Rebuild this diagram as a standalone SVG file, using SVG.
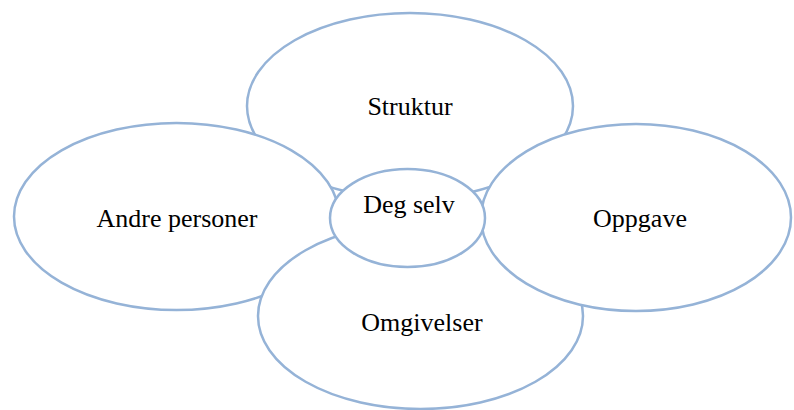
<svg xmlns="http://www.w3.org/2000/svg" width="794" height="410" viewBox="0 0 794 410">
<style>
.e{fill:#ffffff;stroke:#95b3d7;stroke-width:2.5}
.t{font-family:"Liberation Serif","Times New Roman",serif;font-size:26px;fill:#000000;text-anchor:middle}
</style>
<rect width="794" height="410" fill="#ffffff"/>
<g id="connectors"></g>
<g id="struktur"><ellipse class="e" cx="410" cy="106" rx="163" ry="93"/><text class="t" x="410" y="115">Struktur</text></g>
<g id="andre-personer"><ellipse class="e" cx="176.5" cy="216.5" rx="162.5" ry="93.5"/><text class="t" x="177" y="226.5">Andre personer</text></g>
<g id="omgivelser"><ellipse class="e" cx="420.5" cy="316" rx="162.5" ry="93"/><text class="t" x="422" y="331">Omgivelser</text></g>
<g id="oppgave"><ellipse class="e" cx="636" cy="217.5" rx="155" ry="93.5"/><text class="t" x="640" y="226.5">Oppgave</text></g>
<g id="deg-selv"><ellipse class="e" cx="407.5" cy="218" rx="77.5" ry="49"/><text class="t" x="409" y="213">Deg selv</text></g>
</svg>
